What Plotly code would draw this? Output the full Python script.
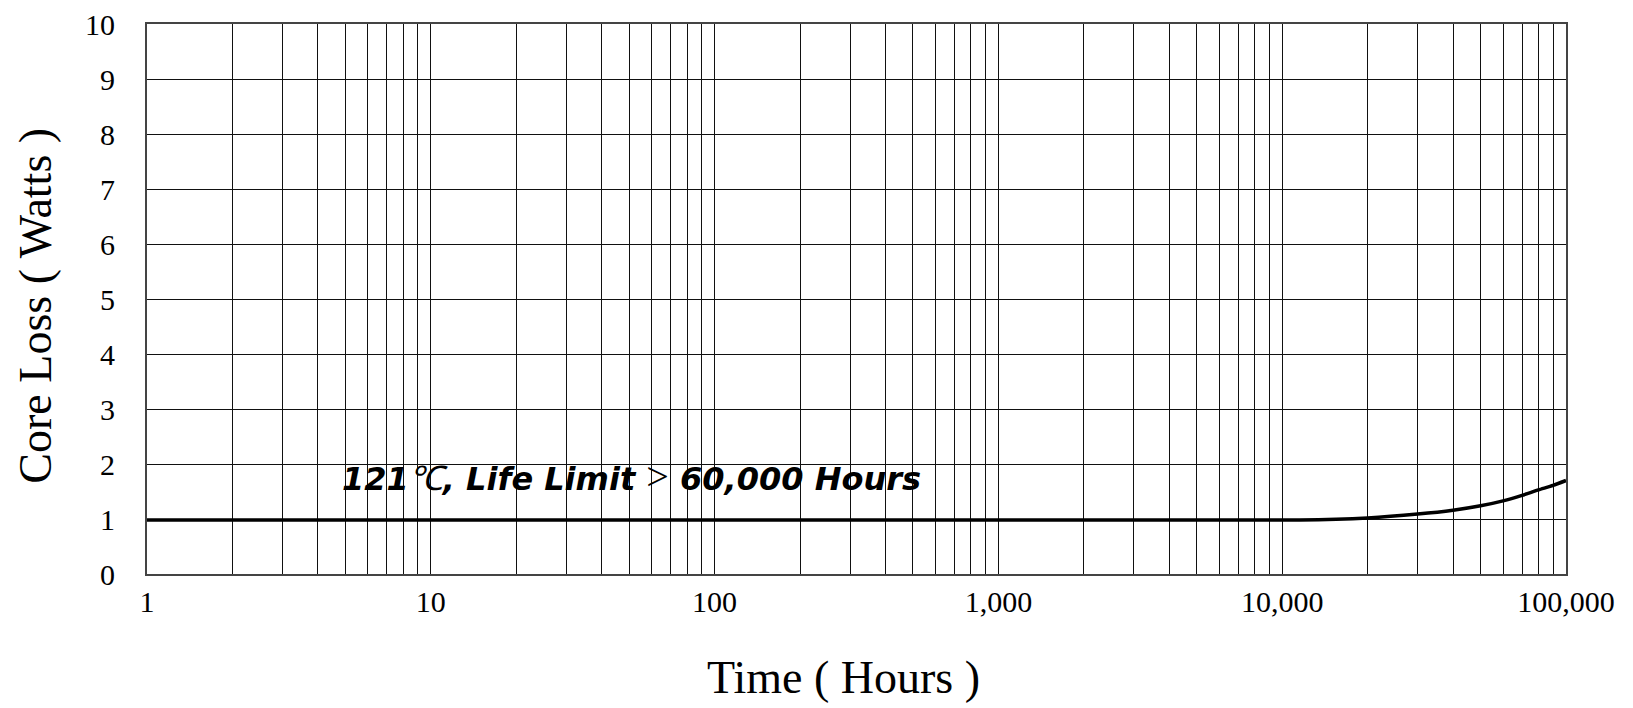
import plotly.graph_objects as go

# Data
time_hours = [1, 11500, 20000, 30000, 40000, 50000, 60000, 70000, 80000, 90000, 100000]
core_loss_w = [0.98, 0.98, 1.02, 1.09, 1.16, 1.24, 1.33, 1.43, 1.53, 1.61, 1.70]

x_tick_vals = [1, 10, 100, 1000, 10000, 100000]
x_tick_text = ["1", "10", "100", "1,000", "10,000", "100,000"]
y_tick_vals = [0, 1, 2, 3, 4, 5, 6, 7, 8, 9, 10]

x_title = "Time ( Hours )"
y_title = "Core Loss ( Watts )"
note_text = ("<b><i>121</i></b><span style=\"font-family:'Liberation Serif';font-weight:normal;font-style:italic;font-size:34px\">℃</span>"
             "<b><i>, Life Limit </i></b><span style=\"font-family:'Liberation Serif';font-weight:normal;font-size:40px\">&gt;</span>"
             "<b><i> 60,000 Hours</i></b>")

fig = go.Figure()
fig.add_trace(go.Scatter(
    x=time_hours, y=core_loss_w, mode="lines",
    line=dict(color="black", width=3.5, shape="spline", smoothing=0.6),
    showlegend=False, hoverinfo="x+y",
))

serif = "Liberation Serif, Times New Roman, serif"

fig.update_layout(
    width=1625, height=700,
    margin=dict(l=139, r=67, t=16, b=134),
    paper_bgcolor="white", plot_bgcolor="white",
    font=dict(family=serif, color="black"),
    xaxis=dict(
        type="log", range=[0, 5], automargin=False,
        tickvals=x_tick_vals, ticktext=x_tick_text,
        tickfont=dict(family=serif, size=30, color="black"),
        showgrid=True, gridcolor="#111", gridwidth=1,
        minor=dict(dtick="D1", showgrid=True, gridcolor="#111", gridwidth=1),
        showline=True, mirror=True, linecolor="#444", linewidth=2,
        ticks="", ticklabeloverflow="allow",
        zeroline=False,
    ),
    yaxis=dict(
        range=[0, 10], tickvals=y_tick_vals, automargin=False,
        tickfont=dict(family=serif, size=30, color="black"),
        showgrid=True, gridcolor="#111", gridwidth=1,
        showline=True, mirror=True, linecolor="#444", linewidth=2,
        ticks="", ticklabelstandoff=24, ticklabeloverflow="allow",
        zeroline=False,
    ),
    annotations=[
        dict(
            x=0.68, y=1.78, xref="x", yref="y", xanchor="left", yanchor="middle",
            text=note_text, showarrow=False,
            font=dict(family="DejaVu Sans", size=32, color="black"),
        ),
        dict(
            x=0.4905, y=-0.188, xref="paper", yref="paper", xanchor="center", yanchor="middle",
            text=x_title, showarrow=False,
            font=dict(family=serif, size=46, color="black"),
        ),
        dict(
            x=-0.0782, y=0.488, xref="paper", yref="paper", xanchor="center", yanchor="middle",
            text=y_title, showarrow=False, textangle=-90,
            font=dict(family=serif, size=46, color="black"),
        ),
    ],
)

fig.write_html("out.html")
